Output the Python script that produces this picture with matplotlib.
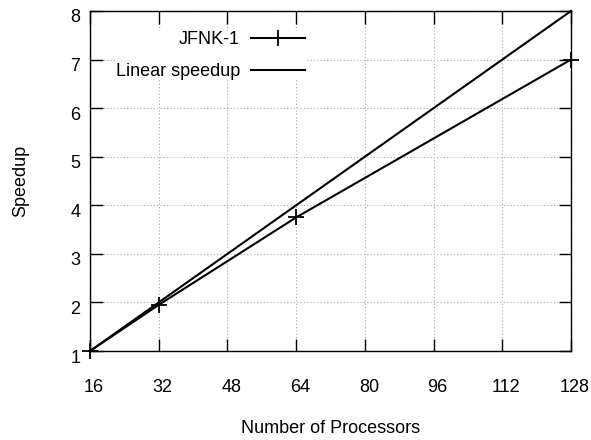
import matplotlib
matplotlib.use("Agg")
import matplotlib.pyplot as plt
import matplotlib.transforms as mtransforms

procs = [16, 32, 64, 128]
jfnk_speedup = [1.0, 1.95, 3.75, 7.0]
linear_procs = [16, 128]
linear_speedup = [1.0, 8.0]
x_ticks = [16, 32, 48, 64, 80, 96, 112, 128]
y_ticks = [1, 2, 3, 4, 5, 6, 7, 8]

plt.rcParams["font.family"] = ["Liberation Sans", "DejaVu Sans"]
plt.rcParams["font.size"] = 13

fig = plt.figure(figsize=(5.91, 4.40), dpi=100)
ax = fig.add_axes([90 / 591, 1 - 351 / 440, 481 / 591, 340 / 440])

ax.plot(procs, jfnk_speedup, color="black", lw=1.5, marker="+", ms=12, mew=1.3,
        label="JFNK-1", clip_on=False, zorder=3)
ax.plot(linear_procs, linear_speedup, color="black", lw=1.5, label="Linear speedup",
        clip_on=False, zorder=3)

ax.set_xlim(16, 128)
ax.set_ylim(1, 8)
ax.set_xticks(x_ticks)
ax.set_yticks(y_ticks)
ax.tick_params(direction="in", length=9, width=1, top=True, right=True, color="black")
ax.tick_params(axis="x", pad=20)
ax.tick_params(axis="y", pad=7)
for sp in ax.spines.values():
    sp.set_linewidth(1)

# gnuplot-ish label offsets
dx = mtransforms.ScaledTranslation(4 / 100, 0, fig.dpi_scale_trans)
for lab in ax.get_xticklabels():
    lab.set_transform(lab.get_transform() + dx)
dy = mtransforms.ScaledTranslation(0, -5 / 100, fig.dpi_scale_trans)
for lab in ax.get_yticklabels():
    lab.set_transform(lab.get_transform() + dy)

ax.grid(True, color="#aaaaaa", linestyle=(0, (1, 2)), linewidth=0.8)

ax.set_xlabel("Number of Processors")
ax.set_ylabel("Speedup")
ax.xaxis.set_label_coords(0.5, (351 - 420) / 340)
ax.yaxis.set_label_coords((29 - 90) / 481, 0.5)

leg = ax.legend(loc="upper right", bbox_to_anchor=((305 - 90) / 481, 1 - (31 - 11) / 340),
                markerfirst=False, frameon=True, fancybox=False, edgecolor="none",
                facecolor="white", framealpha=1, borderpad=0, borderaxespad=0,
                handlelength=3.0, handletextpad=0.6, labelspacing=0.85)

fig.savefig("out.png", dpi=100)
